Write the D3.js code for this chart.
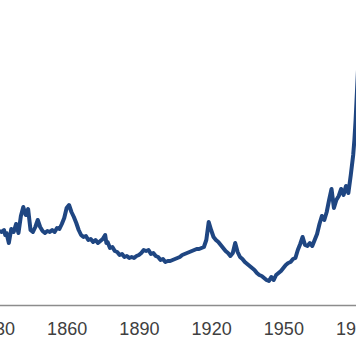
<!DOCTYPE html>
<html>
<head>
<meta charset="utf-8">
<script src="https://cdn.jsdelivr.net/npm/d3@7"></script>
<style>
html,body{margin:0;padding:0;background:#fff;overflow:hidden;}
svg{display:block;}
</style>
</head>
<body>
<svg id="chart" width="356" height="364"></svg>
<script>
const years = [1832,1833,1834,1834.5,1835,1836,1837,1838,1839,1840,1841,1842,1843,1844,1845,1846,1847,1848,1849,1850,1851,1852,1853,1854,1855,1856,1857,1858,1859,1860,1861,1862,1863,1864,1865,1866,1867,1868,1869,1870,1871,1872,1873,1874,1875,1876,1876.5,1877,1878,1879,1880,1881,1882,1883,1884,1885,1886,1887,1888,1889,1890,1891,1892,1893,1894,1895,1896,1897,1898,1899,1900,1901,1902,1903,1904,1905,1906,1907,1908,1909,1910,1911,1912,1913,1914,1915,1916,1917,1918,1919,1920,1921,1922,1923,1924,1925,1926,1927,1928,1929,1930,1931,1932,1933,1934,1935,1936,1937,1938,1939,1940,1941,1942,1943,1944,1945,1946,1947,1948,1949,1950,1951,1952,1953,1954,1955,1956,1957,1958,1959,1960,1961,1962,1963,1964,1965,1966,1967,1968,1969,1970,1971,1972,1973,1974,1975,1976,1977,1978,1979,1979.5,1980,1981.5];
const values = [74,73,75,70,72,62,76,73,81,72,89,98,90,96,75,73,78,85,78,74,72,74,73,75,73,77,76,81,87,97,100,93,88,82,75,70,68,69,65,66,63,65,62,64,66,70,62,63,57,58,54,53,50,51,48,49,47,48,47,49,50,52,55,54,55,51,52,49,48,45,46,43,44,44,45,46,47,48,50,51,52,53,54,55,56,56,57,58,65,83,75,68,65,63,60,57,54,52,49,52,62,53,48,46,43,41,39,37,35,32,30,29,27,25,24,28,25,30,32,34,37,40,42,43,46,47,55,61,68,60,59,62,59,65,71,81,89,85,93,105,116,97,105,109,116,110,119,112,130,150,165,185,260];
const tickYears = [1830,1860,1890,1920,1950,1980];

const W = 356, H = 364;
const svg = d3.select("#chart");
const x = d3.scaleLinear().domain([1830,1980]).range([-5.6,355.6]);
const y = d3.scaleLinear().domain([0,300]).range([305,5]);

const data = years.map((yr,i)=>({yr, v:values[i]}));

svg.append("path")
  .datum(data)
  .attr("fill","none")
  .attr("stroke","#1f4682")
  .attr("stroke-width",4)
  .attr("stroke-linejoin","round")
  .attr("stroke-linecap","round")
  .attr("d", d3.line().x(d=>x(d.yr)).y(d=>y(d.v)));

svg.append("line")
  .attr("x1",0).attr("x2",W)
  .attr("y1",305.5).attr("y2",305.5)
  .attr("stroke","#8c8c8c").attr("stroke-width",1.5);

const ax = svg.append("g")
  .attr("transform","translate(0,305)")
  .call(d3.axisBottom(x).tickValues(tickYears).tickFormat(d3.format("d")).tickSize(0).tickPadding(17));
ax.select(".domain").remove();
ax.selectAll("text")
  .attr("font-family","'Liberation Sans', Arial, sans-serif")
  .attr("font-size","18px")
  .attr("fill","#404040");
</script>
</body>
</html>
